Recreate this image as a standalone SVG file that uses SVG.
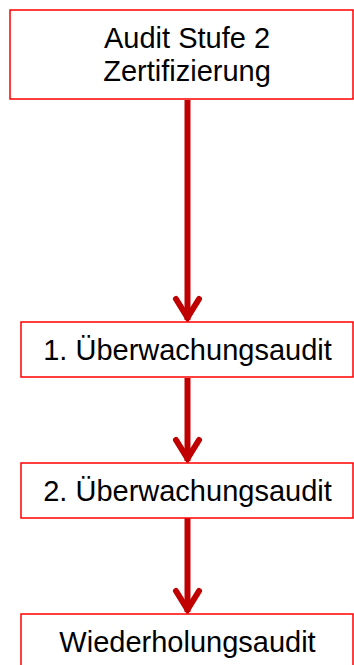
<svg xmlns="http://www.w3.org/2000/svg" width="354" height="665" viewBox="0 0 354 665">
<style>
.box{fill:#fff;stroke:#FF0000;stroke-width:1.5}
.lbl{font-family:"Liberation Sans",Arial,sans-serif;font-size:29px;fill:#000;text-anchor:middle}
.line{stroke:#C00000;stroke-width:6;fill:none}
.head{stroke:#C00000;stroke-width:6;fill:none;stroke-linecap:round;stroke-linejoin:miter}
</style>
<rect width="354" height="665" fill="#fff"/>
<g id="connectors">
<line class="line" x1="187.5" y1="100" x2="187.5" y2="320"/>
<path class="head" d="M176,299 L187.5,317.5 L199,299"/>
<line class="line" x1="187.5" y1="378" x2="187.5" y2="461"/>
<path class="head" d="M176,440 L187.5,458.5 L199,440"/>
<line class="line" x1="187.5" y1="518" x2="187.5" y2="612"/>
<path class="head" d="M176,591 L187.5,609.5 L199,591"/>
</g>
<g id="n1">
<rect class="box" x="10" y="10" width="343" height="89"/>
<text class="lbl" x="187" y="48">Audit Stufe 2</text>
<text class="lbl" x="187" y="81">Zertifizierung</text>
</g>
<g id="n2">
<rect class="box" x="21" y="322" width="332" height="55"/>
<text class="lbl" x="187.5" y="360">1. Überwachungsaudit</text>
</g>
<g id="n3">
<rect class="box" x="21" y="463" width="332" height="55"/>
<text class="lbl" x="187.5" y="501">2. Überwachungsaudit</text>
</g>
<g id="n4">
<rect class="box" x="21" y="614" width="332" height="60"/>
<text class="lbl" x="187.5" y="652">Wiederholungsaudit</text>
</g>
</svg>
